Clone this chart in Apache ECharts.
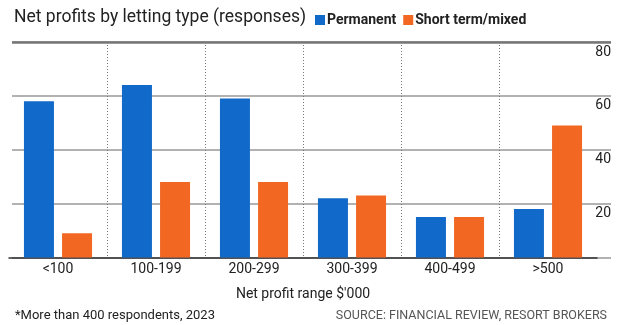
<!DOCTYPE html>
<html><head><meta charset="utf-8">
<script src="https://cdn.jsdelivr.net/npm/echarts@6/dist/echarts.min.js"></script>
<style>html,body{margin:0;padding:0;background:#fff}#c{width:620px;height:325px}</style>
</head><body><div id="c"></div>
<script>
const categories = ['<100', '100-199', '200-299', '300-399', '400-499', '>500'];
const permanent = [58, 64, 59, 22, 15, 18];
const shortTerm = [9, 28, 28, 23, 15, 49];
const yTicks = [0, 20, 40, 60, 80];

const FONT = 'Roboto';
const chart = echarts.init(document.getElementById('c'));
chart.setOption({
  animation: false,
  textStyle: { fontFamily: FONT },
  title: [
    { text: 'Net profits by letting type (responses)', left: 9, top: 4,
      textStyle: { fontSize: 17.5, fontWeight: 'normal', color: '#222', fontFamily: FONT } },
    { text: '*More than 400 respondents, 2023', left: 10, top: 304,
      textStyle: { fontSize: 13, fontWeight: 'normal', color: '#222', fontFamily: FONT } },
    { text: 'SOURCE: FINANCIAL REVIEW, RESORT BROKERS', right: 8, top: 304,
      textStyle: { fontSize: 12.5, fontWeight: 'normal', color: '#555', fontFamily: FONT } }
  ],
  legend: {
    left: 310, top: 8, itemWidth: 10, itemHeight: 10, itemGap: 7, icon: 'rect',
    textStyle: { fontSize: 14, fontWeight: 'bold', color: '#222', padding: [0, 0, 0, -3] },
    data: ['Permanent', 'Short term/mixed']
  },
  grid: [
    { left: 9, width: 588, top: 42, bottom: 67.5 },
    { left: 12, right: 9, top: 42, bottom: 67.5 }
  ],
  xAxis: [
    { type: 'category', gridIndex: 0, data: categories,
      axisLine: { lineStyle: { color: '#333', width: 1.5 } },
      axisTick: { show: false },
      axisLabel: { fontSize: 14, color: '#222', margin: 5 },
      splitLine: { show: true, showMinLine: false, showMaxLine: false,
        lineStyle: { color: '#777', type: [1, 2], width: 1 } },
      name: "Net profit range $'000", nameLocation: 'middle', nameGap: 30,
      nameTextStyle: { fontSize: 14, color: '#222' } },
    { type: 'value', gridIndex: 1, show: false }
  ],
  yAxis: [
    { type: 'value', gridIndex: 0, min: 0, max: 80, interval: 20, show: false,
      splitLine: { show: false } },
    { type: 'value', gridIndex: 1, min: 0, max: 80, interval: 20, position: 'right',
      axisLine: { show: false }, axisTick: { show: false },
      axisLabel: { inside: true, fontSize: 14, color: '#222', margin: 0,
        verticalAlign: 'top', padding: [3, 0, 0, 0], showMinLabel: false,
        formatter: v => yTicks.includes(v) ? String(v) : '' },
      splitLine: { show: true, lineStyle: { color: '#999', width: 1.5 } } }
  ],
  series: [
    { name: 'Permanent', type: 'bar', xAxisIndex: 0, yAxisIndex: 0, data: permanent,
      barWidth: 30, barGap: '27%', itemStyle: { color: '#1169c9' } },
    { name: 'Short term/mixed', type: 'bar', xAxisIndex: 0, yAxisIndex: 0, data: shortTerm,
      barWidth: 30, barGap: '27%', itemStyle: { color: '#f26722' } },
    { type: 'line', xAxisIndex: 1, yAxisIndex: 1, data: [], silent: true,
      markLine: { silent: true, symbol: 'none', label: { show: false },
        lineStyle: { color: '#777', width: 2.5, type: 'solid' },
        data: [{ yAxis: 80 }] } }
  ]
});
</script></body></html>
